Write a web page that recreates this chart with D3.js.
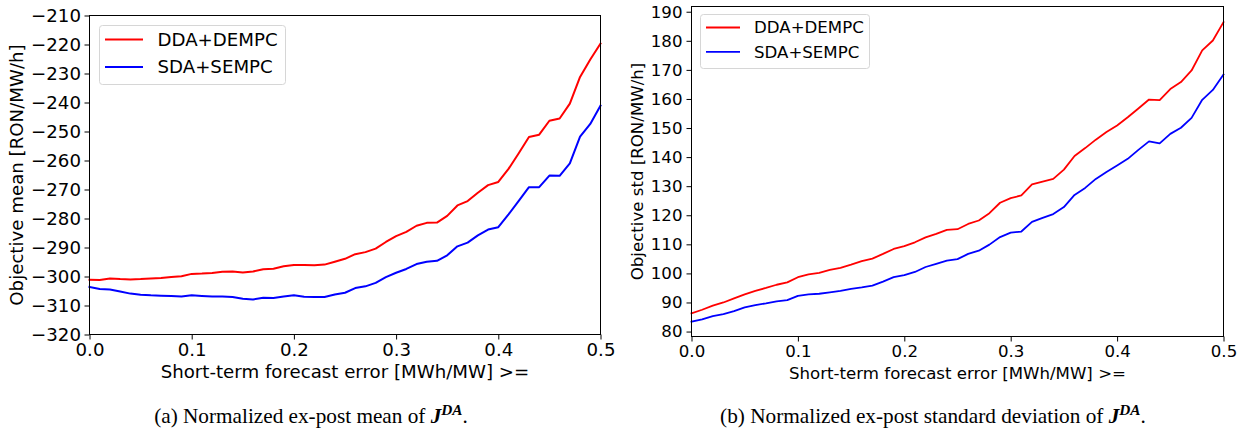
<!DOCTYPE html>
<html><head><meta charset="utf-8">
<script src="https://cdn.jsdelivr.net/npm/d3@7"></script>
<style>
html,body{margin:0;padding:0;background:#fff;}
svg{display:block;}
</style></head>
<body>
<svg id="fig" width="1252" height="434"></svg>
<script>
const xValues = [0.00,0.01,0.02,0.03,0.04,0.05,0.06,0.07,0.08,0.09,0.10,0.11,0.12,0.13,0.14,0.15,0.16,0.17,0.18,0.19,0.20,0.21,0.22,0.23,0.24,0.25,0.26,0.27,0.28,0.29,0.30,0.31,0.32,0.33,0.34,0.35,0.36,0.37,0.38,0.39,0.40,0.41,0.42,0.43,0.44,0.45,0.46,0.47,0.48,0.49,0.50];
const meanDDA = [-301.1,-301.2,-300.7,-300.9,-301.0,-300.9,-300.7,-300.5,-300.2,-299.9,-299.1,-299.0,-298.8,-298.4,-298.3,-298.6,-298.3,-297.5,-297.3,-296.5,-296.0,-296.0,-296.1,-295.9,-294.9,-293.9,-292.3,-291.6,-290.4,-288.1,-286.1,-284.6,-282.5,-281.5,-281.4,-279.1,-275.5,-274.0,-271.1,-268.5,-267.4,-262.9,-257.5,-251.9,-251.1,-246.3,-245.5,-240.4,-231.2,-225.2,-219.7];
const meanSDA = [-303.6,-304.3,-304.5,-305.2,-305.9,-306.3,-306.5,-306.6,-306.7,-306.9,-306.5,-306.7,-306.9,-306.9,-307.1,-307.7,-307.9,-307.3,-307.4,-306.9,-306.5,-307.0,-307.1,-307.1,-306.2,-305.6,-304.0,-303.4,-302.2,-300.2,-298.7,-297.4,-295.7,-294.9,-294.6,-292.7,-289.6,-288.3,-285.8,-283.8,-283.0,-278.6,-273.9,-269.2,-269.2,-265.2,-265.3,-261.0,-251.8,-247.4,-241.1];
const stdDDA = [86.3,87.5,88.9,90.0,91.4,92.8,94.0,95.0,96.1,96.9,98.7,99.7,100.2,101.2,101.9,103.0,104.2,105.1,106.7,108.4,109.4,110.7,112.4,113.6,115.0,115.2,117.0,118.2,120.7,124.3,125.9,126.8,130.6,131.6,132.5,135.7,140.4,143.1,146.0,148.6,150.9,153.7,156.7,159.8,159.6,163.4,165.8,169.8,176.7,180.1,186.4];
const stdSDA = [83.4,84.2,85.3,86.0,87.0,88.3,89.1,89.7,90.4,90.8,92.3,92.8,93.0,93.5,94.0,94.7,95.2,95.8,97.2,98.7,99.4,100.5,102.2,103.3,104.4,104.9,106.7,107.8,109.9,112.5,114.0,114.4,117.7,119.1,120.4,122.8,127.0,129.4,132.5,134.9,137.1,139.4,142.5,145.4,144.7,148.0,150.1,153.5,159.7,163.1,168.4];
const seriesNames = ["DDA+DEMPC","SDA+SEMPC"];
const seriesColors = ["#ff0000","#0000ff"];
const xTicks = [0.0,0.1,0.2,0.3,0.4,0.5];
const meanTicks = [-320,-310,-300,-290,-280,-270,-260,-250,-240,-230,-220,-210];
const stdTicks = [80,90,100,110,120,130,140,150,160,170,180,190];
const xLabel = "Short-term forecast error [MWh/MW] >=";

const svg = d3.select("#fig");
const fmtX = d3.format(".1f");
const fmtY = v => (v < 0 ? "\u2212" + Math.abs(v) : String(v));
const SANS = "'DejaVu Sans', sans-serif";
const SERIF = "'Liberation Serif', 'Times New Roman', serif";

// find the font size at which a text reaches the target width
function fitSize(text, family, target) {
  const t = svg.append("text").style("font-family", family).style("font-size", "20px").text(text);
  const w = t.node().getComputedTextLength();
  t.remove();
  return 20 * target / w;
}

function drawChart(c) {
  const g = svg.append("g");
  const x = d3.scaleLinear().domain([0, 0.5]).range([c.left, c.right]);
  const y = d3.scaleLinear().domain(c.yDomain).range([c.bottom, c.top]);
  const fs = fitSize(xLabel, SANS, c.xLabelW);

  const line = d3.line().x((d, i) => x(xValues[i])).y(d => y(d));
  c.series.forEach((s, k) => {
    g.append("path").datum(s).attr("d", line)
      .attr("fill", "none").attr("stroke", seriesColors[k])
      .attr("stroke-width", c.lw).attr("stroke-linejoin", "round").attr("stroke-linecap", "square");
  });

  g.append("rect").attr("x", c.left).attr("y", c.top)
    .attr("width", c.right - c.left).attr("height", c.bottom - c.top)
    .attr("fill", "none").attr("stroke", "#000").attr("stroke-width", 1);

  const xAxis = d3.axisBottom(x).tickValues(xTicks).tickFormat(fmtX).tickSize(5).tickPadding(c.xPad);
  const gx = g.append("g").attr("transform", `translate(0,${c.bottom})`).call(xAxis);
  const yAxis = d3.axisLeft(y).tickValues(c.yTicks).tickFormat(fmtY).tickSize(5).tickPadding(c.yPad);
  const gy = g.append("g").attr("transform", `translate(${c.left},0)`).call(yAxis);
  [gx, gy].forEach(a => {
    a.select(".domain").remove();
    a.selectAll(".tick line").attr("stroke", "#000").attr("stroke-width", 1);
    a.selectAll(".tick text").attr("fill", "#000").style("font-family", SANS).style("font-size", fs + "px");
  });

  g.append("text").attr("x", (c.left + c.right) / 2).attr("y", c.xLabelY)
    .attr("text-anchor", "middle").style("font-family", SANS).style("font-size", fs + "px")
    .attr("fill", "#000").text(xLabel);
  g.append("text").attr("transform", `translate(${c.yLabelX},${(c.top + c.bottom) / 2}) rotate(-90)`)
    .attr("text-anchor", "middle").style("font-family", SANS).style("font-size", fs + "px")
    .attr("fill", "#000").text(c.yLabel);

  const L = c.legend;
  g.append("rect").attr("x", L.x).attr("y", L.y).attr("width", L.w).attr("height", L.h)
    .attr("rx", 3).attr("fill", "#fff").attr("fill-opacity", 0.8)
    .attr("stroke", "#d6d6d6").attr("stroke-width", 1);
  seriesNames.forEach((n, k) => {
    const yy = L.row0 + k * L.dy;
    g.append("line").attr("x1", L.hx0).attr("x2", L.hx1).attr("y1", yy).attr("y2", yy)
      .attr("stroke", seriesColors[k]).attr("stroke-width", c.lw);
    g.append("text").attr("x", L.tx).attr("y", yy).attr("dy", "0.36em")
      .style("font-family", SANS).style("font-size", fs + "px").attr("fill", "#000").text(n);
  });

  const capFs = fitSize(c.caption + "JDA.", SERIF, c.capW);
  const cap = g.append("text").attr("x", c.capX).attr("y", c.capY).attr("text-anchor", "middle")
    .style("font-family", SERIF).style("font-size", capFs + "px").attr("fill", "#000");
  cap.append("tspan").text(c.caption);
  cap.append("tspan").style("font-weight", "bold").style("font-style", "italic").text("J");
  cap.append("tspan").style("font-weight", "bold").style("font-style", "italic")
    .style("font-size", (capFs * 0.72) + "px").attr("dy", "-0.55em").text("DA");
  cap.append("tspan").attr("dy", "0.4em").text(".");
}

drawChart({
  left: 89.5, right: 600.5, top: 15.5, bottom: 334.5,
  yDomain: [-320, -210], yTicks: meanTicks, series: [meanDDA, meanSDA],
  xLabelW: 369, lw: 2, xPad: 3.5, yPad: 3.5,
  xLabelY: 378, yLabelX: 23, yLabel: "Objective mean [RON/MW/h]",
  legend: { x: 99.5, y: 25.5, w: 186, h: 59, row0: 39.5, dy: 27.4, hx0: 105, hx1: 143, tx: 157.5 },
  caption: "(a) Normalized ex-post mean of ", capX: 311, capY: 423, capW: 321
});
drawChart({
  left: 691.5, right: 1223.5, top: 6.5, bottom: 336.5,
  yDomain: [78.3, 191.8], yTicks: stdTicks, series: [stdDDA, stdSDA],
  xLabelW: 337, lw: 1.8, xPad: 3.3, yPad: 4,
  xLabelY: 379, yLabelX: 642.5, yLabel: "Objective std [RON/MW/h]",
  legend: { x: 700.5, y: 14.5, w: 169, h: 54, row0: 27.5, dy: 24.4, hx0: 706, hx1: 740, tx: 754 },
  caption: "(b) Normalized ex-post standard deviation of ", capX: 933, capY: 423, capW: 433
});
</script>
</body></html>
